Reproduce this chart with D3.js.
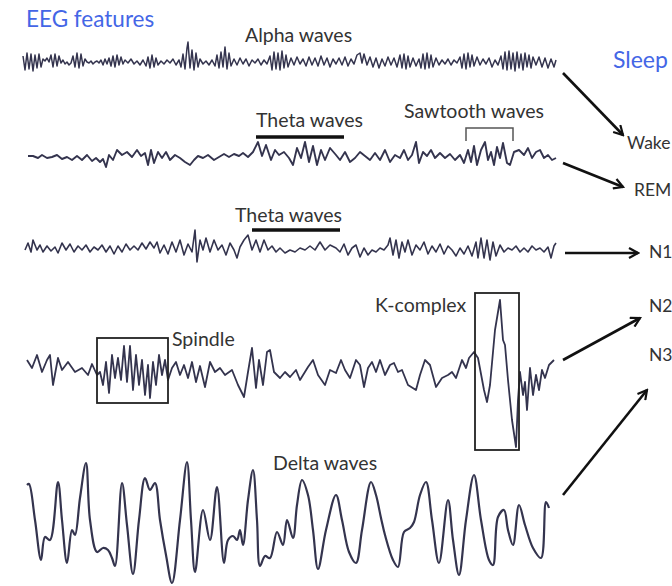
<!DOCTYPE html>
<html>
<head>
<meta charset="utf-8">
<script src="https://cdn.jsdelivr.net/npm/d3@7"></script>
<style>
  body { margin: 0; background: #fff; }
  svg { display: block; }
</style>
</head>
<body>
<div id="chart"></div>
<script>
const width = 672;
const height = 586;

// EEG traces: [time (samples), amplitude (uV, positive up)]
const alphaTrace = [
  [3,6],[5,-8],[7,9],[9,-7],[11,8],[13,-9],[15,7],[17,-6],[19,8],[21,-5],
  [23,3],[25,1],[27,4],[29,0],
  [31,7],[33,-5],[35,8],[37,-4],[39,6],
  [41,-1],[43,2],[45,-2],[47,0],[49,-3],[51,-1],
  [53,6],[55,-5],[57,9],[59,-6],[61,8],[63,-4],[65,3],
  [67,0],[69,-1],[71,1],[73,-2],[75,0],[77,1],[79,-1],
  [81,2],[83,-3],[85,3],[87,-2],[89,4],
  [91,-4],[93,6],[95,-5],[97,7],[99,-3],[101,5],[103,-2],
  [105,2],[108,-1],[111,3],[114,-2],[117,1],[120,-3],[123,2],
  [126,-4],[128,5],[130,-6],[132,7],[134,-5],[136,4],[138,-3],
  [141,1],[144,-2],[147,2],[150,-1],[153,3],[156,-3],[159,2],
  [161,-5],[163,8],[165,-7],[167,14],[168,20],[170,-6],[172,12],[174,-8],[176,9],[178,-5],
  [180,3],[183,-2],[186,1],[189,-3],[192,2],
  [195,-4],[197,7],[199,-6],[201,10],[203,-5],[205,15],[207,-7],[209,9],[211,-4],
  [214,3],[217,-3],[220,4],[223,-2],[226,3],[229,-4],[232,2],[235,-1],[238,3],[241,-3],[244,2],[247,-2],
  [250,6],[252,-8],[254,10],[256,-7],[258,9],[260,-8],[262,11],[264,-6],[266,7],[268,-5],
  [271,4],[274,-3],[277,5],[280,-2],
  [283,3],[286,-4],[289,5],[292,-3],[295,4],[298,-4],[301,6],[304,-3],[307,4],[310,-5],[313,3],[316,-2],
  [319,4],[322,-3],[325,5],[328,-4],[331,3],[334,-2],[337,7],[340,9],[342,-1],[344,8],[347,-3],[350,5],[353,-5],[356,4],[359,-6],
  [362,3],[365,-4],[368,5],[371,-3],[374,4],[377,-5],[380,7],[382,-6],[384,8],[386,-7],[388,6],[390,-5],[393,4],[396,-4],
  [399,3],[401,-6],[403,8],[405,-7],[407,9],[409,-6],[411,7],[413,-5],[416,4],[419,-3],
  [422,2],[425,-2],[428,3],[431,-3],[434,2],[437,-1],
  [440,5],[442,-6],[444,8],[446,-7],[448,9],[450,-5],[452,7],[454,-4],[457,5],[460,-3],
  [463,3],[466,-2],[469,4],[472,-5],[475,2],[478,-3],
  [481,6],[483,-7],[485,10],[487,-8],[489,11],[491,-7],[493,9],[495,-9],[497,10],[499,-6],[501,8],[503,-8],[505,9],[507,-5],[509,7],[511,-6],[513,5],
  [516,-3],[519,5],[522,-5],[525,4],[528,-6],[531,3],[534,-5],[536,2]
];

const remTrace = [
  [8,1],[13,1],[18,-1],[22,2],[27,-1],[32,0],[37,2],[42,-2],[47,0],[52,-3],
  [57,1],[62,-3],[67,2],[72,-4],[76,-1],[80,-5],[83,-2],[86,-10],[89,2],[93,-3],
  [97,7],[102,2],[107,5],[112,0],[117,7],[121,1],[125,4],[128,-8],[131,7],[134,-6],
  [138,5],[142,-1],[146,5],[150,-3],[155,2],[160,-1],[165,-5],[170,-8],[174,-3],[178,1],
  [183,-1],[188,2],[194,-3],[199,0],[204,3],[209,0],[214,3],[219,1],[223,4],[228,0],
  [233,5],[238,15],[242,1],[246,12],[251,-3],[255,7],[259,2],[264,5],[269,-1],[273,-8],
  [277,9],[281,-1],[285,15],[289,-5],[293,11],[297,-8],[301,7],[305,-3],[310,9],[316,2],
  [320,-3],[325,5],[330,-5],[335,-1],[340,5],[345,1],[350,-3],[355,4],[360,-3],[365,7],
  [370,-5],[375,2],[380,-1],[384,7],[388,-3],[392,2],[396,15],[399,-6],[403,5],[407,1],
  [411,7],[415,-1],[420,4],[425,-1],[430,3],[435,-3],[440,2],[444,-6],[448,7],[451,-5],
  [454,11],[457,-8],[461,7],[465,15],[468,-3],[471,5],[474,-8],[477,10],[480,-1],[483,14],
  [487,-6],[490,-8],[494,5],[499,7],[504,2],[508,9],[512,-1],[516,5],[520,7],[524,-1],
  [528,2],[532,-3],[536,-1]
];

const n1Trace = [
  [5,-2],[8,5],[11,-4],[13,8],[17,-2],[20,3],[23,-4],[27,2],[31,-3],[35,1],
  [38,-5],[42,5],[46,-2],[50,4],[54,-4],[58,2],[62,-2],[66,3],[70,-4],[74,1],
  [78,-2],[82,3],[86,-4],[90,2],[94,-6],[98,2],[102,-4],[106,4],[110,-2],[114,2],
  [118,-2],[122,5],[126,-1],[130,6],[134,0],[137,6],[140,-5],[144,3],[148,-6],[152,6],
  [156,-4],[160,8],[164,-7],[168,4],[172,-4],[175,18],[177,-14],[180,8],[183,-2],[186,10],
  [190,-4],[194,8],[198,-2],[202,3],[206,-7],[210,5],[214,-2],[217,-10],[220,1],[224,8],
  [228,13],[232,-2],[236,8],[240,-4],[244,8],[248,-2],[252,2],[256,-4],[260,0],[265,-5],
  [270,-2],[275,-4],[280,0],[285,-2],[290,2],[295,-2],[300,6],[305,-2],[310,3],[316,0],
  [320,-4],[324,4],[328,-7],[332,0],[336,3],[340,-9],[344,0],[348,-7],[352,-2],[356,-4],
  [360,0],[364,-2],[368,3],[370,10],[373,-7],[376,8],[379,-10],[382,6],[385,-4],[388,8],
  [392,-7],[396,3],[400,-2],[404,6],[408,-6],[412,2],[416,-4],[420,4],[424,-6],[428,2],
  [432,-2],[436,-8],[440,0],[444,-6],[448,2],[452,-8],[456,6],[458,-10],[461,10],[464,-10],
  [467,8],[470,-12],[473,6],[476,-8],[480,3],[484,-4],[488,0],[492,-2],[496,2],[500,-4],
  [504,0],[508,-4],[512,2],[516,-2],[520,0],[524,-4],[528,1],[531,-10],[534,2],[536,5]
];

const n2Trace = [
  [7,8],[12,0],[17,13],[22,-4],[27,8],[30,13],[33,-17],[38,10],[42,-2],[48,6],
  [55,-4],[62,0],[68,-7],[72,4],[77,-7],[80,-4],[83,-17],[86,6],[89,-25],[92,13],
  [95,-10],[98,10],[101,-12],[104,22],[107,-14],[110,22],[113,-22],[116,13],[119,-17],[122,8],
  [125,-27],[128,3],[130,-30],[133,6],[136,-17],[139,13],[142,-7],[145,8],[148,-12],[152,0],
  [156,6],[160,-7],[164,3],[168,-10],[172,6],[176,-14],[180,2],[185,-19],[190,6],[195,-4],
  [200,0],[205,-7],[212,-2],[218,-17],[224,-29],[228,-4],[232,20],[236,-20],[239,8],[243,-17],
  [247,16],[250,18],[254,-4],[260,-10],[265,-4],[270,-9],[276,-2],[280,-12],[288,1],[293,8],
  [298,-7],[305,-17],[310,-2],[316,-5],[321,8],[325,-2],[330,-10],[336,8],[340,3],[344,-19],
  [348,0],[352,6],[356,-4],[360,8],[365,-7],[370,3],[374,5],[378,-4],[382,-2],[388,-17],
  [396,-22],[400,-7],[405,8],[410,3],[416,-19],[422,-10],[428,-7],[432,-4],[436,-10],[442,8],
  [446,0],[449,10],[454,16],[458,10],[464,-22],[467,-34],[470,-17],[475,38],[480,68],[483,28],
  [485,23],[488,-12],[492,-52],[496,-79],[498,-32],[500,-4],[503,-27],[505,-14],[507,-42],[510,0],
  [513,-27],[516,-7],[519,-22],[522,-2],[525,-10],[529,3],[534,8]
];

const n3Trace = [
  [7,35],[9,36],[15,0],[21,-40],[25,-17],[30,-20],[38,38],[42,0],[47,-43],[52,-10],
  [55,-15],[60,22],[66,57],[70,0],[77,-32],[83,-28],[88,-30],[92,-38],[95,-46],[102,37],
  [107,-5],[113,-54],[119,0],[125,42],[130,30],[135,37],[140,0],[146,-35],[152,-63],[160,0],
  [167,58],[171,0],[175,-52],[183,10],[190,-20],[197,33],[204,-43],[208,-20],[213,-16],[217,-20],
  [220,-10],[223,-25],[228,20],[233,50],[237,0],[240,-46],[245,-36],[250,-38],[257,-12],[263,-25],
  [267,0],[273,-18],[277,15],[282,40],[288,25],[293,-10],[298,-49],[306,-10],[316,25],[322,0],
  [329,-32],[336,-43],[342,-10],[351,38],[356,25],[361,2],[365,-15],[373,-40],[378,-47],[384,-12],
  [390,-8],[394,-2],[400,25],[406,38],[412,0],[419,-43],[428,20],[433,-20],[439,-55],[446,0],
  [454,45],[461,0],[469,-40],[473,-45],[478,3],[484,10],[488,-10],[493,-25],[499,15],[505,-5],
  [513,-28],[521,-38],[526,18],[529,12]
];

const traceNames = ["Alpha", "REM", "N1", "N2", "N3"];
const stageLabels = ["Wake", "REM", "N1", "N2", "N3"];

// layout
const rows = [
  { data: alphaTrace, center: 62, curve: d3.curveLinear, width: 1.5 },
  { data: remTrace, center: 157, curve: d3.curveLinear, width: 1.9 },
  { data: n1Trace, center: 248, curve: d3.curveLinear, width: 1.6 },
  { data: n2Trace, center: 368, curve: d3.curveLinear, width: 1.8 },
  { data: n3Trace, center: 520, curve: d3.curveCatmullRom, width: 2.2 }
];

const stagePos = [
  { x: 627, y: 149 }, { x: 634, y: 196 }, { x: 649, y: 258 }, { x: 649, y: 312 }, { x: 649, y: 361 }
];
const arrows = [
  [563, 73, 623, 135],
  [563, 163, 623, 187],
  [565, 253, 638, 253],
  [563, 360, 640, 318],
  [563, 495, 647, 390]
];

const font = "Lato, 'Open Sans', sans-serif";
const traceColor = "#34344e";

const svg = d3.select("#chart")
  .append("svg")
  .attr("width", width)
  .attr("height", height);

svg.append("defs").append("marker")
  .attr("id", "head")
  .attr("viewBox", "0 0 12 12")
  .attr("refX", 10)
  .attr("refY", 6)
  .attr("markerWidth", 12)
  .attr("markerHeight", 12)
  .attr("markerUnits", "userSpaceOnUse")
  .attr("orient", "auto")
  .append("path")
  .attr("d", "M1,1 L10,6 L1,11")
  .attr("fill", "none")
  .attr("stroke", "#111")
  .attr("stroke-width", 2.2);

const x = d3.scaleLinear().domain([0, 540]).range([20, 560]);

rows.forEach((row, i) => {
  const y = d3.scaleLinear()
    .domain([-100, 100])
    .range([row.center + 100, row.center - 100]);
  const line = d3.line()
    .x(d => x(d[0]))
    .y(d => y(d[1]))
    .curve(row.curve);
  svg.append("path")
    .datum(row.data)
    .attr("class", "trace trace-" + traceNames[i])
    .attr("d", line)
    .attr("fill", "none")
    .attr("stroke", traceColor)
    .attr("stroke-width", row.width)
    .attr("stroke-linejoin", "round");
});

// annotation marks
svg.append("rect").attr("x", 97).attr("y", 338).attr("width", 71).attr("height", 65)
  .attr("fill", "none").attr("stroke", "#222").attr("stroke-width", 1.8);
svg.append("rect").attr("x", 475).attr("y", 293).attr("width", 44).attr("height", 157)
  .attr("fill", "none").attr("stroke", "#222").attr("stroke-width", 1.8);
svg.append("line").attr("x1", 256).attr("x2", 344).attr("y1", 137).attr("y2", 137)
  .attr("stroke", "#111").attr("stroke-width", 3.5);
svg.append("line").attr("x1", 252).attr("x2", 340).attr("y1", 230).attr("y2", 230)
  .attr("stroke", "#111").attr("stroke-width", 3.5);
svg.append("path").attr("d", "M466,141 V128 H513 V141")
  .attr("fill", "none").attr("stroke", "#555").attr("stroke-width", 1.5);

const labels = [
  { text: "Alpha waves", x: 245, y: 42 },
  { text: "Theta waves", x: 256, y: 127 },
  { text: "Sawtooth waves", x: 404, y: 118 },
  { text: "Theta waves", x: 235, y: 222 },
  { text: "Spindle", x: 172, y: 346 },
  { text: "K-complex", x: 375, y: 312 },
  { text: "Delta waves", x: 273, y: 470 }
];
svg.selectAll("text.label")
  .data(labels)
  .enter()
  .append("text")
  .attr("class", "label")
  .attr("x", d => d.x)
  .attr("y", d => d.y)
  .text(d => d.text)
  .style("font-family", font)
  .style("font-size", "19.5px")
  .style("fill", "#333");

svg.append("text").attr("x", 26).attr("y", 27).text("EEG features")
  .style("font-family", font).style("font-size", "22.5px").style("fill", "#4466e6");
svg.append("text").attr("x", 613).attr("y", 68).text("Sleep")
  .style("font-family", font).style("font-size", "23px").style("fill", "#4466e6");

svg.selectAll("line.arrow")
  .data(arrows)
  .enter()
  .append("line")
  .attr("class", "arrow")
  .attr("x1", d => d[0]).attr("y1", d => d[1])
  .attr("x2", d => d[2]).attr("y2", d => d[3])
  .attr("stroke", "#111")
  .attr("stroke-width", 2.6)
  .attr("marker-end", "url(#head)");

svg.selectAll("text.stage")
  .data(stageLabels)
  .enter()
  .append("text")
  .attr("class", "stage")
  .attr("x", (d, i) => stagePos[i].x)
  .attr("y", (d, i) => stagePos[i].y)
  .text(d => d)
  .style("font-family", font)
  .style("font-size", "17.5px")
  .style("fill", "#333");
</script>
</body>
</html>
